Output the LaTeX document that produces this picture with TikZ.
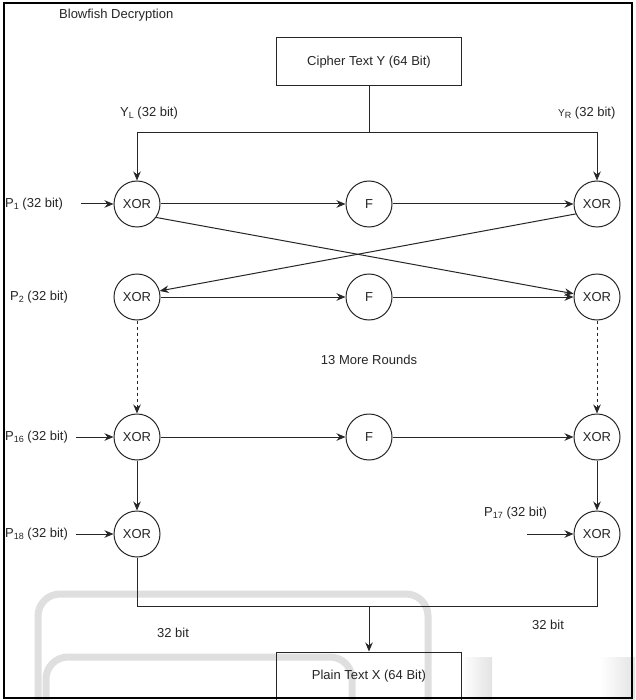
\documentclass[tikz,border=0pt]{standalone}
\usepackage{fontspec}
\setmainfont{Liberation Sans}
\usetikzlibrary{arrows.meta}
\newcommand\mysub[1]{\raisebox{-2.5pt}{\fontsize{9}{9}\selectfont #1}}
\begin{document}
\begin{tikzpicture}[x=1pt,y=-1pt,
  every node/.style={font=\fontsize{13}{15}\selectfont, text=black!85},
  xorc/.style={circle, draw=black!85, line width=1pt, minimum size=46pt, inner sep=0pt},
  boxn/.style={rectangle, draw=black!85, line width=1pt, minimum width=185pt, minimum height=48pt, inner sep=0pt},
  conn/.style={line width=1pt, draw=black!85},
  arr/.style={conn, -{Stealth[length=9pt,width=7.5pt]}},
  dasharr/.style={arr, dash pattern=on 3pt off 3pt},
  lbl/.style={anchor=west, inner sep=0pt},
  wm/.style={draw=gray!25, line width=7pt, rounded corners=22pt},
  wmb/.style={left color=white, right color=gray!22}
]
\useasboundingbox (0,0) rectangle (635,700);
\clip (0,0) rectangle (635,700);
\fill[white] (0,0) rectangle (635,700);
% faint background marks
\draw[wm] (38,760) -- (38,594) -- (428,594) -- (428,760);
\draw[wm] (46,760) -- (46,657) -- (352,657) -- (352,760);
\shade[wmb] (462,657) rectangle (492,700);
\shade[wmb] (600,657) rectangle (635,700);
% boxes
\node[boxn] (ct) at (369,62) {Cipher Text Y (64 Bit)};
\node[boxn] (pt) at (369,676) {Plain Text X (64 Bit)};
% rows
\node[xorc] (xl1) at (137,204) {XOR};
\node[xorc] (f1) at (369,204) {F};
\node[xorc] (xr1) at (597,204) {XOR};
\node[xorc] (xl2) at (137,297) {XOR};
\node[xorc] (f2) at (369,297) {F};
\node[xorc] (xr2) at (597,297) {XOR};
\node[xorc] (xl16) at (137,437) {XOR};
\node[xorc] (f16) at (369,437) {F};
\node[xorc] (xr16) at (597,437) {XOR};
\node[xorc] (xl18) at (137,534) {XOR};
\node[xorc] (xr17) at (597,534) {XOR};
% labels
\node[lbl] (title) at (59,15) {Blowfish Decryption};
\node[lbl] (yl) at (120,113) {Y\mysub{L} (32 bit)};
\node[lbl] (yr) at (558,113) {{\fontsize{10}{12}\selectfont Y\mysub{R}} (32 bit)};
\node[lbl] (p1) at (5,204) {P\mysub{1} (32 bit)};
\node[lbl] (p2) at (10,297) {P\mysub{2} (32 bit)};
\node[lbl] (p16) at (5,437) {P\mysub{16} (32 bit)};
\node[lbl] (p18) at (5,534) {P\mysub{18} (32 bit)};
\node[lbl] (p17) at (484,513) {P\mysub{17} (32 bit)};
\node (more) at (369,360) {13 More Rounds};
\node (bl) at (173,633) {32 bit};
\node (br) at (548,625) {32 bit};
% coordinates
\coordinate (j1) at (369,133);
\coordinate (s1) at (81,204);
\coordinate (s16) at (76,437);
\coordinate (s18) at (76,534);
\coordinate (s17) at (527,534);
\coordinate (or) at (597,606);
\coordinate (om) at (369,606);
% connectors
\draw[conn] (ct) -- (j1);
\draw[arr] (j1) -| (xl1);
\draw[arr] (j1) -| (xr1);
\draw[arr] (s1) -- (xl1);
\draw[arr] (xl1) -- (f1);
\draw[arr] (f1) -- (xr1);
\draw[arr] (xl1.-35) -- (xr2.172);
\draw[arr] (xr1.-155) -- (xl2.15);
\draw[arr] (xl2) -- (f2);
\draw[arr] (f2) -- (xr2);
\draw[dasharr] (xl2) -- (xl16);
\draw[dasharr] (xr2) -- (xr16);
\draw[arr] (s16) -- (xl16);
\draw[arr] (xl16) -- (f16);
\draw[arr] (f16) -- (xr16);
\draw[arr] (xl16) -- (xl18);
\draw[arr] (xr16) -- (xr17);
\draw[arr] (s18) -- (xl18);
\draw[arr] (s17) -- (xr17);
\draw[conn] (xl18) |- (or) -- (xr17);
\draw[arr] (om) -- (pt);
% frame
\draw[line width=2.5pt] (4,3) rectangle (632,698);
\end{tikzpicture}
\end{document}
